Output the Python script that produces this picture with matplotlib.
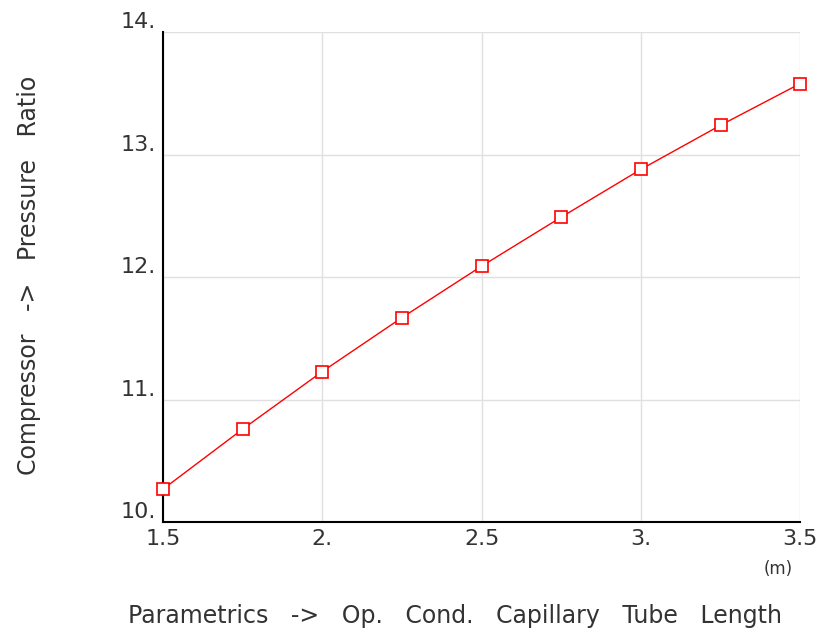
import numpy as np
import matplotlib.pyplot as plt

# capillary tube length (m) vs compressor pressure ratio
tube_length = [1.5, 1.75, 2.0, 2.25, 2.5, 2.75, 3.0, 3.25, 3.5]
pressure_ratio = [10.27, 10.76, 11.23, 11.67, 12.09, 12.49, 12.88, 13.24, 13.58]
x_ticks = [1.5, 2.0, 2.5, 3.0, 3.5]
x_labels = ["1.5", "2.", "2.5", "3.", "3.5"]
y_ticks = [10, 11, 12, 13, 14]
y_labels = ["10.", "11.", "12.", "13.", "14."]

txt = "#333333"
plt.rcParams['font.family'] = ['DejaVu Sans']

fig = plt.figure(figsize=(8.19, 6.3), dpi=100)
ax = fig.add_axes([0.199, 0.171, 0.778, 0.778])

ax.plot(tube_length, pressure_ratio, color="red", lw=1.0,
        marker="s", markersize=8, markerfacecolor="white",
        markeredgecolor="red", markeredgewidth=1.2, clip_on=False, zorder=3)

ax.set_xlim(1.5, 3.5)
ax.set_ylim(10, 14)
ax.set_xticks(x_ticks)
ax.set_xticklabels(x_labels)
ax.set_yticks(y_ticks)
ax.set_yticklabels(y_labels)
ax.tick_params(length=0, labelsize=16, colors=txt, pad=5)
for lbl in ax.get_yticklabels():
    lbl.set_verticalalignment("bottom")

ax.grid(True, color="#e0e0e0", lw=1.0)
ax.set_axisbelow(True)
for s in ["top", "right"]:
    ax.spines[s].set_visible(False)
for s in ["left", "bottom"]:
    ax.spines[s].set_color("black")
    ax.spines[s].set_linewidth(1.5)

ax.text(3.43, 9.62, "(m)", fontsize=12, color=txt, ha="center", va="center")
fig.text(0.556, 0.022, "Parametrics   ->   Op.   Cond.   Capillary   Tube   Length",
         fontsize=17, color=txt, ha="center", va="center")
fig.text(0.035, 0.563, "Compressor   ->   Pressure   Ratio", fontsize=17,
         color=txt, ha="center", va="center", rotation=90)

fig.savefig("out.png", dpi=100)
